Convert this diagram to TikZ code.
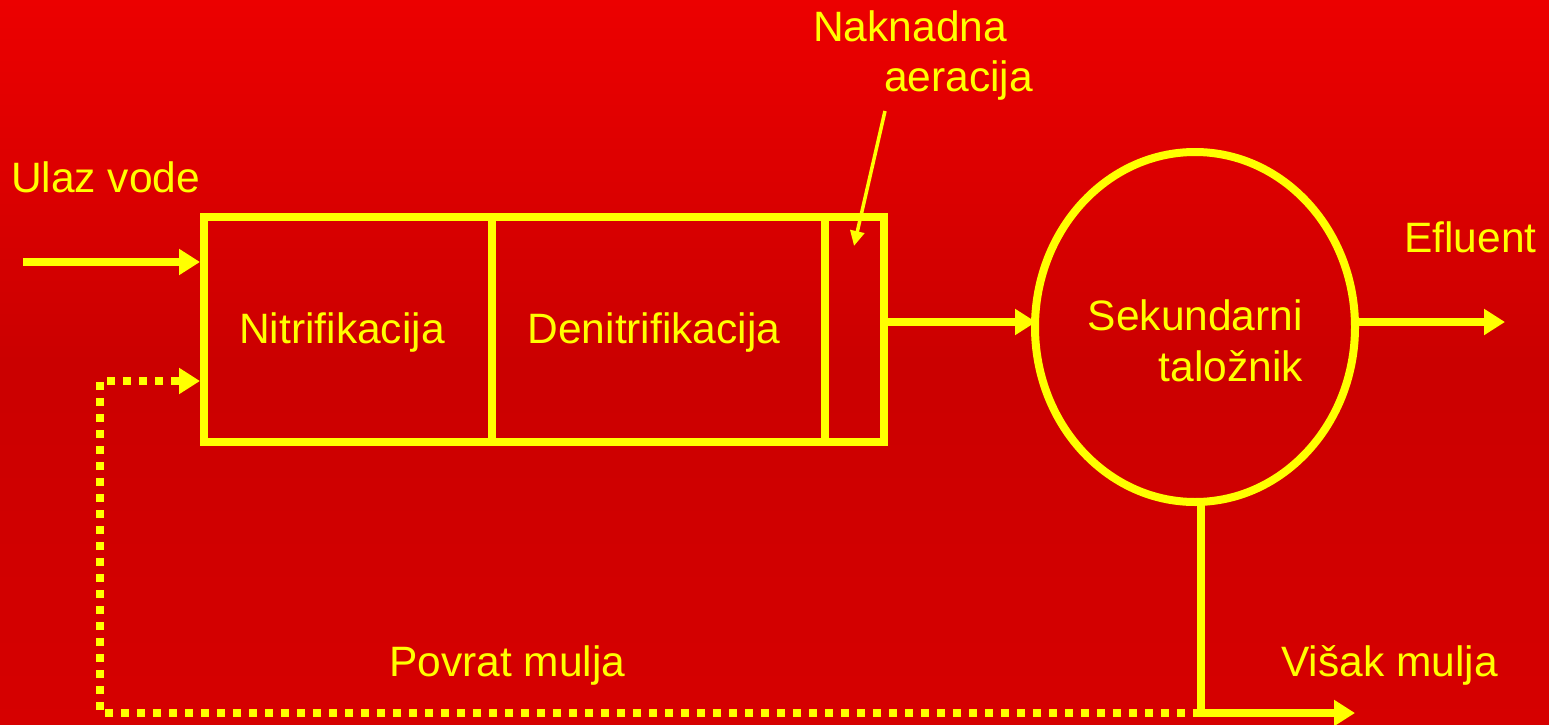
\documentclass[tikz,border=0pt]{standalone}
\usepackage{fontspec}
\setmainfont{Liberation Sans}
\usetikzlibrary{arrows.meta,shapes.geometric}
\definecolor{ylw}{RGB}{255,255,0}
\definecolor{bgtop}{RGB}{236,0,0}
\definecolor{bgmid}{RGB}{203,0,0}
\definecolor{bgbot}{RGB}{214,0,0}
\tikzset{
  lbl/.style={text=ylw,font=\fontsize{42.5}{51}\selectfont,inner sep=0pt},
  flow/.style={draw=ylw,line width=8pt,-{Triangle[length=21pt,width=25pt]}},
  pipe/.style={draw=ylw,line width=8pt},
  retour/.style={draw=ylw,line width=7.5pt,dash pattern=on 8pt off 8pt},
  unitbox/.style={draw=ylw,line width=8pt,minimum height=225pt,inner sep=0pt},
  pointer/.style={draw=ylw,line width=3.5pt,-{Triangle[length=15pt,width=14pt]}}
}
\begin{document}
\begin{tikzpicture}[x=1pt,y=-1pt]
\useasboundingbox (0,0) rectangle (1549,725);
\shade[top color=bgtop,bottom color=bgbot,middle color=bgmid] (0,0) rectangle (1549,725);
% boxes
\node[unitbox,minimum width=288pt] (nit) at (348,329) {};
\node[unitbox,minimum width=333pt] (den) at (658.5,329) {};
\node[unitbox,minimum width=59pt] (aer) at (854.5,329) {};
\node[draw=ylw,line width=8pt,ellipse,minimum width=320pt,minimum height=350pt,inner sep=0pt] (sek) at (1195,327) {};
% labels
\node[lbl,anchor=base west] (ulaz) at (11,192) {Ulaz vode};
\node[lbl,anchor=base] (tnit) at (342,343) {Nitrifikacija};
\node[lbl,anchor=base] (tden) at (654,343) {Denitrifikacija};
\node[lbl,anchor=base east] (tsek1) at (1303,330) {Sekundarni};
\node[lbl,anchor=base east] (tsek2) at (1303,381) {taložnik};
\node[lbl,anchor=base west] (tnak1) at (813,42) {Naknadna};
\node[lbl,anchor=base west] (tnak2) at (884,92) {aeracija};
\node[lbl,anchor=base west] (tefl) at (1404,252) {Efluent};
\node[lbl,anchor=base west] (tpov) at (389,676) {Povrat mulja};
\node[lbl,anchor=base west] (tvis) at (1281,676) {Višak mulja};
% coordinates
\coordinate (inA) at (23,262);
\coordinate (inB) at (nit.west |- inA);
\coordinate (retB) at (nit.west |- 0,381);
\coordinate (retC) at (100,381);
\coordinate (retD) at (100,713);
\coordinate (vA) at (1201,503);
\coordinate (vB) at (1201,713);
\coordinate (vC) at (1355,713);
\coordinate (effA) at (1353,322);
\coordinate (effB) at (1505,322);
\coordinate (outA) at (aer.east |- 0,322);
\coordinate (outB) at (1036,322);
\coordinate (pA) at (885,111);
\coordinate (pB) at (854,246);
% connectors
\draw[flow] (inA) -- (inB);
\draw[retour] (vB) -- (retD) -- (retC) -- ([xshift=-16pt]retB);
\draw[flow] ([xshift=-24pt]retB) -- (retB);
\draw[flow] (outA) -- (outB);
\draw[flow] (effA) -- (effB);
\draw[pipe] (vA) -- (vB);
\draw[flow] ([xshift=-4pt]vB) -- (vC);
\draw[pointer] (pA) -- (pB);
\end{tikzpicture}
\end{document}
